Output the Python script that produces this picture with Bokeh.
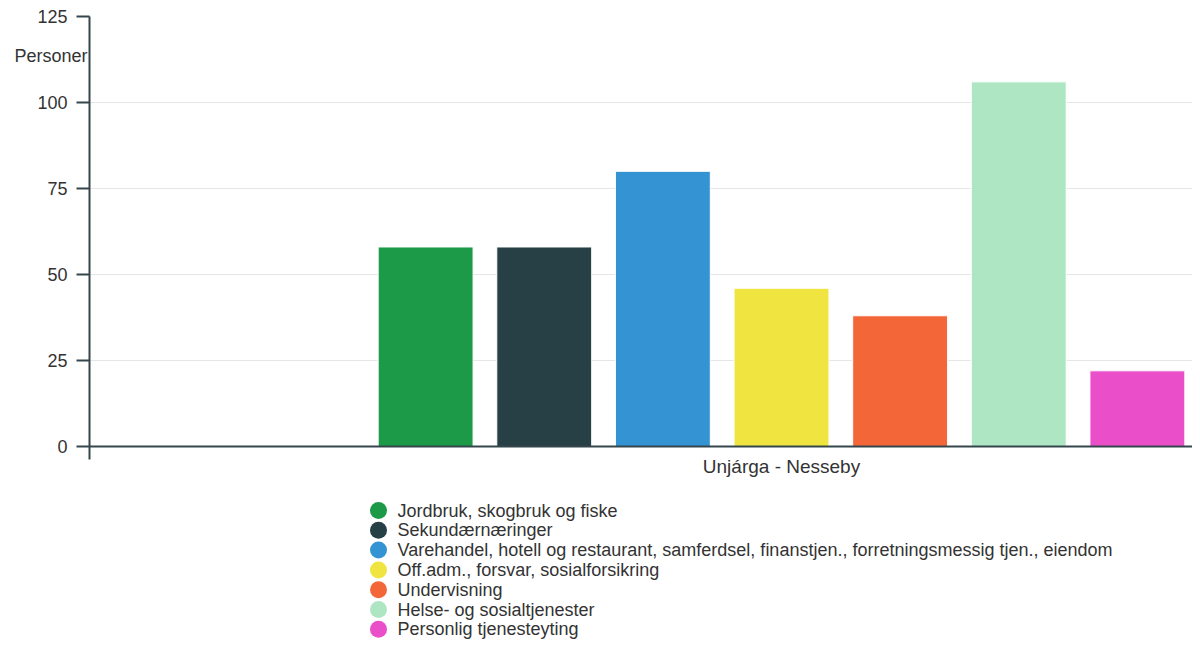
from bokeh.plotting import figure
from bokeh.models import ColumnDataSource, Range1d, FixedTicker, LinearAxis
from bokeh.layouts import column
from bokeh.embed import file_html
from bokeh.resources import INLINE
from bokeh.core.properties import value

# ---- data ----
region = ["Unjárga - Nesseby"]
series = [
    "Jordbruk, skogbruk og fiske",
    "Sekundærnæringer",
    "Varehandel, hotell og restaurant, samferdsel, finanstjen., forretningsmessig tjen., eiendom",
    "Off.adm., forsvar, sosialforsikring",
    "Undervisning",
    "Helse- og sosialtjenester",
    "Personlig tjenesteyting",
]
values = [58, 58, 80, 46, 38, 106, 22]
colors = ["#1d9a48", "#264045", "#3494d3", "#f0e441", "#f26638", "#aee6c4", "#ea4fc9"]
y_ticks = [0, 25, 50, 75, 100, 125]
y_label = "Personer"
y_label_pos = 113.5     # where the unit label sits along the y axis

FONT = "Liberation Sans"
TEXT = "#333333"
AXIS = "#34464c"

W = 1192
LEFT = 89
BAND_PX = 1384          # pixel width of the (single) category band in the original

# ---- grouped column geometry (one category, Highcharts-like padding) ----
n = len(series)
group_width = 0.6
slot = group_width / n
bar_width = slot * 0.8
xs = [-group_width / 2 + (i + 0.5) * slot for i in range(n)]

src = ColumnDataSource(dict(x=xs, top=values, color=colors, name=series))

p = figure(width=W, height=490,
           x_range=Range1d(-0.5, -0.5 + (W - LEFT) / BAND_PX),
           y_range=Range1d(0, 125),
           toolbar_location=None, output_backend="svg",
           min_border_left=LEFT, min_border_right=0,
           min_border_top=16, min_border_bottom=44)
p.outline_line_color = None
p.background_fill_color = "white"

p.vbar(x="x", top="top", bottom=0, width=bar_width, fill_color="color",
       line_color="white", line_width=1, source=src)

# y axis
p.yaxis.ticker = FixedTicker(ticks=y_ticks)
p.yaxis.major_tick_out = 13
p.yaxis.major_tick_in = 0
p.yaxis.minor_tick_line_color = None
p.yaxis.major_tick_line_color = AXIS
p.yaxis.major_tick_line_width = 2
p.yaxis.axis_line_color = AXIS
p.yaxis.axis_line_width = 2
p.yaxis.major_label_standoff = 9
p.yaxis.major_label_text_font = FONT
p.yaxis.major_label_text_font_size = "18px"
p.yaxis.major_label_text_color = TEXT

# unit label "Personer" as an outer, line-less left axis with a single labelled tick
unit_axis = LinearAxis(ticker=FixedTicker(ticks=[y_label_pos]),
                       major_label_overrides={y_label_pos: y_label},
                       axis_line_color=None, major_tick_line_color=None,
                       minor_tick_line_color=None, major_tick_out=0, major_tick_in=0,
                       major_label_standoff=-53,
                       major_label_text_font=FONT, major_label_text_font_size="18px",
                       major_label_text_color=TEXT)
p.add_layout(unit_axis, "left")

# x axis
p.xaxis.ticker = FixedTicker(ticks=[0], minor_ticks=[-0.5, 0.5])
p.xaxis.major_label_overrides = {0: region[0]}
p.xaxis.major_tick_out = 0
p.xaxis.major_tick_in = 0
p.xaxis.major_tick_line_color = None
p.xaxis.minor_tick_out = 13
p.xaxis.minor_tick_in = 0
p.xaxis.minor_tick_line_color = AXIS
p.xaxis.minor_tick_line_width = 2
p.xaxis.axis_line_color = AXIS
p.xaxis.axis_line_width = 2
p.xaxis.major_label_standoff = -4
p.xaxis.major_label_text_font = FONT
p.xaxis.major_label_text_font_size = "19px"
p.xaxis.major_label_text_color = TEXT

p.xgrid.grid_line_color = None
p.ygrid.ticker = FixedTicker(ticks=y_ticks)
p.ygrid.grid_line_color = "#e6e6e6"
p.ygrid.grid_line_width = 1

# ---- legend (drawn as a separate panel; its frame is aligned with the chart frame) ----
L_H = 149
leg = figure(width=W, height=L_H, x_range=Range1d(LEFT, W), y_range=Range1d(L_H, 0),
             toolbar_location=None, output_backend="svg",
             min_border_left=LEFT, min_border_right=0, min_border_top=0, min_border_bottom=0)
leg.axis.visible = False
leg.grid.grid_line_color = None
leg.outline_line_color = None

row_h = 19.8
ly = [20 + i * row_h for i in range(n)]
lsrc = ColumnDataSource(dict(y=ly, color=colors, name=series,
                             cx=[378] * n, tx=[397] * n))
leg.scatter(x="cx", y="y", size=17, marker="circle", fill_color="color",
            line_color=None, source=lsrc)
leg.text(x="tx", y="y", text="name", text_font=value(FONT), text_font_size="18px",
         text_color=TEXT, text_baseline="middle", text_align="left", source=lsrc)

layout = column(p, leg, spacing=0)
open("out.html", "w").write(file_html(layout, INLINE))
